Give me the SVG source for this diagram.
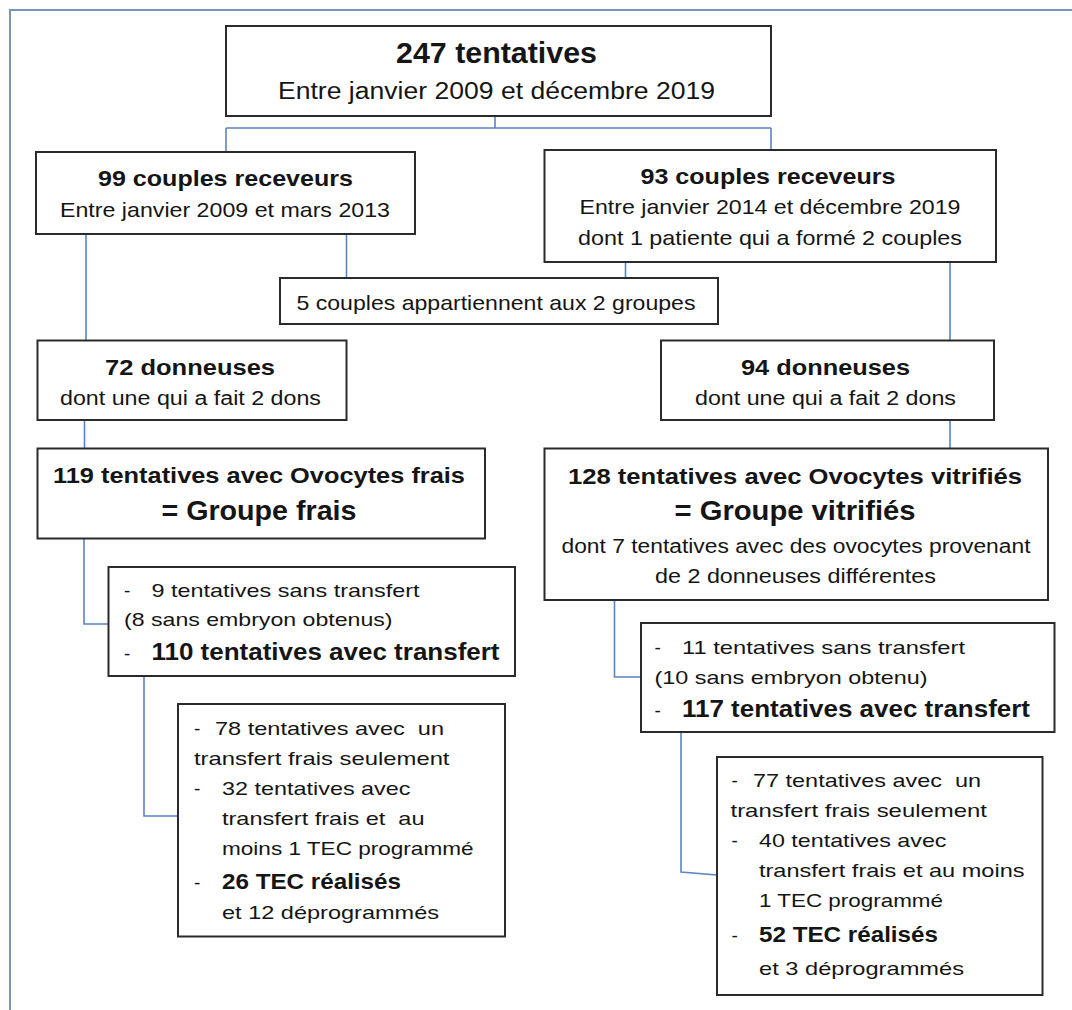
<svg xmlns="http://www.w3.org/2000/svg" width="1072" height="1010" viewBox="0 0 1072 1010">
<style>
.box{fill:#fff;stroke:#2b2b2b;stroke-width:2}
.c{fill:none;stroke:#5b84c4;stroke-width:1.6}
.frame{fill:none;stroke:#7a93bd;stroke-width:2}
text{font-family:"Liberation Sans",Arial,sans-serif;fill:#151515;white-space:pre}
.m{text-anchor:middle}
.b{font-weight:bold}
</style>
<rect width="1072" height="1010" fill="#fff"/>
<path class="frame" d="M1072 10 H10 V1010"/>
<g id="connectors">
<path class="c" d="M495 116 V128 M226 128 H771 M226 128 V152 M771 128 V150"/>
<path class="c" d="M346.5 234 V278 M625.5 262 V278"/>
<path class="c" d="M86 234 V340 M950 262 V340"/>
<path class="c" d="M84.5 420 V448 M950 420 V458"/>
<path class="c" d="M84 539 V624 H108"/>
<path class="c" d="M614.5 600 V677 H641"/>
<path class="c" d="M144 676 V816 H180"/>
<path class="c" d="M681 732 V872 L717 875"/>
</g>
<g id="n-top">
<rect class="box" x="226" y="26" width="545" height="90"/>
<text class="m b" x="496.5" y="62.5" font-size="29" textLength="201" lengthAdjust="spacingAndGlyphs">247 tentatives</text>
<text class="m" x="496.5" y="99" font-size="23" textLength="437" lengthAdjust="spacingAndGlyphs">Entre janvier 2009 et décembre 2019</text>
</g>
<g id="n-99">
<rect class="box" x="36" y="152" width="379" height="82"/>
<text class="m b" x="225.5" y="186" font-size="22" textLength="255" lengthAdjust="spacingAndGlyphs">99 couples receveurs</text>
<text class="m" x="225" y="216.5" font-size="21" textLength="330" lengthAdjust="spacingAndGlyphs">Entre janvier 2009 et mars 2013</text>
</g>
<g id="n-93">
<rect class="box" x="544.5" y="150" width="451.5" height="112"/>
<text class="m b" x="768" y="184" font-size="22" textLength="255" lengthAdjust="spacingAndGlyphs">93 couples receveurs</text>
<text class="m" x="770" y="214" font-size="21" textLength="381" lengthAdjust="spacingAndGlyphs">Entre janvier 2014 et décembre 2019</text>
<text class="m" x="770" y="245" font-size="21" textLength="384" lengthAdjust="spacingAndGlyphs">dont 1 patiente qui a formé 2 couples</text>
</g>
<g id="n-5">
<rect class="box" x="280" y="278" width="438" height="46"/>
<text class="m" x="496" y="309.5" font-size="21" textLength="399" lengthAdjust="spacingAndGlyphs">5 couples appartiennent aux 2 groupes</text>
</g>
<g id="n-72">
<rect class="box" x="37.5" y="340.5" width="309" height="79.5"/>
<text class="m b" x="190" y="374.5" font-size="22" textLength="170" lengthAdjust="spacingAndGlyphs">72 donneuses</text>
<text class="m" x="190.5" y="405" font-size="20" textLength="261" lengthAdjust="spacingAndGlyphs">dont une qui a fait 2 dons</text>
</g>
<g id="n-94">
<rect class="box" x="661" y="340.5" width="333" height="79.5"/>
<text class="m b" x="825.5" y="374.5" font-size="22" textLength="169" lengthAdjust="spacingAndGlyphs">94 donneuses</text>
<text class="m" x="825.5" y="405" font-size="20" textLength="261" lengthAdjust="spacingAndGlyphs">dont une qui a fait 2 dons</text>
</g>
<g id="n-119">
<rect class="box" x="37.5" y="448.5" width="447.5" height="90"/>
<text class="m b" x="259" y="483" font-size="22" textLength="412" lengthAdjust="spacingAndGlyphs">119 tentatives avec Ovocytes frais</text>
<text class="m b" x="259" y="519.5" font-size="28" textLength="195" lengthAdjust="spacingAndGlyphs">= Groupe frais</text>
</g>
<g id="n-128">
<rect class="box" x="544.5" y="448.5" width="503.5" height="151.5"/>
<text class="m b" x="795" y="483.5" font-size="22" textLength="454" lengthAdjust="spacingAndGlyphs">128 tentatives avec Ovocytes vitrifiés</text>
<text class="m b" x="795" y="519.5" font-size="28" textLength="241" lengthAdjust="spacingAndGlyphs">= Groupe vitrifiés</text>
<text class="m" x="796" y="553" font-size="20" textLength="469" lengthAdjust="spacingAndGlyphs">dont 7 tentatives avec des ovocytes provenant</text>
<text class="m" x="795.5" y="583" font-size="20" textLength="281" lengthAdjust="spacingAndGlyphs">de 2 donneuses différentes</text>
</g>
<g id="n-9">
<rect class="box" x="108.5" y="567" width="406.5" height="109"/>
<text x="124" y="597" font-size="19">-</text>
<text x="151.5" y="597" font-size="19" textLength="268" lengthAdjust="spacingAndGlyphs">9 tentatives sans transfert</text>
<text x="124" y="626" font-size="19" textLength="268.5" lengthAdjust="spacingAndGlyphs">(8 sans embryon obtenus)</text>
<text x="124" y="660" font-size="19">-</text>
<text class="b" x="151.5" y="660" font-size="23" textLength="348" lengthAdjust="spacingAndGlyphs">110 tentatives avec transfert</text>
</g>
<g id="n-11">
<rect class="box" x="641" y="623" width="413.5" height="109"/>
<text x="654.5" y="653.5" font-size="19">-</text>
<text x="682" y="653.5" font-size="19" textLength="283" lengthAdjust="spacingAndGlyphs">11 tentatives sans transfert</text>
<text x="654.5" y="683.5" font-size="19" textLength="273" lengthAdjust="spacingAndGlyphs">(10 sans embryon obtenu)</text>
<text x="654.5" y="717" font-size="19">-</text>
<text class="b" x="682" y="717" font-size="23" textLength="348" lengthAdjust="spacingAndGlyphs">117 tentatives avec transfert</text>
</g>
<g id="n-78">
<rect class="box" x="178" y="704" width="327" height="232.5"/>
<text x="194" y="735" font-size="19">-</text>
<text x="215" y="735" font-size="19" textLength="229" lengthAdjust="spacingAndGlyphs">78 tentatives avec  un</text>
<text x="194" y="765" font-size="19" textLength="255.5" lengthAdjust="spacingAndGlyphs">transfert frais seulement</text>
<text x="194" y="795" font-size="19">-</text>
<text x="222" y="795" font-size="19" textLength="188.5" lengthAdjust="spacingAndGlyphs">32 tentatives avec</text>
<text x="222" y="825" font-size="19" textLength="202.5" lengthAdjust="spacingAndGlyphs">transfert frais et  au</text>
<text x="222" y="854.5" font-size="19" textLength="251.5" lengthAdjust="spacingAndGlyphs">moins 1 TEC programmé</text>
<text x="194" y="889" font-size="19">-</text>
<text class="b" x="222" y="889" font-size="22" textLength="179" lengthAdjust="spacingAndGlyphs">26 TEC réalisés</text>
<text x="222" y="918.5" font-size="19" textLength="217" lengthAdjust="spacingAndGlyphs">et 12 déprogrammés</text>
</g>
<g id="n-77">
<rect class="box" x="717" y="757" width="325.5" height="238"/>
<text x="731.5" y="787" font-size="19">-</text>
<text x="753" y="787" font-size="19" textLength="228" lengthAdjust="spacingAndGlyphs">77 tentatives avec  un</text>
<text x="730.5" y="817" font-size="19" textLength="256.5" lengthAdjust="spacingAndGlyphs">transfert frais seulement</text>
<text x="731.5" y="847" font-size="19">-</text>
<text x="759" y="847" font-size="19" textLength="187.5" lengthAdjust="spacingAndGlyphs">40 tentatives avec</text>
<text x="759" y="877" font-size="19" textLength="265.5" lengthAdjust="spacingAndGlyphs">transfert frais et au moins</text>
<text x="759" y="907" font-size="19" textLength="184" lengthAdjust="spacingAndGlyphs">1 TEC programmé</text>
<text x="731.5" y="942" font-size="19">-</text>
<text class="b" x="759" y="942" font-size="22" textLength="179" lengthAdjust="spacingAndGlyphs">52 TEC réalisés</text>
<text x="759" y="975" font-size="19" textLength="205" lengthAdjust="spacingAndGlyphs">et 3 déprogrammés</text>
</g>
</svg>
